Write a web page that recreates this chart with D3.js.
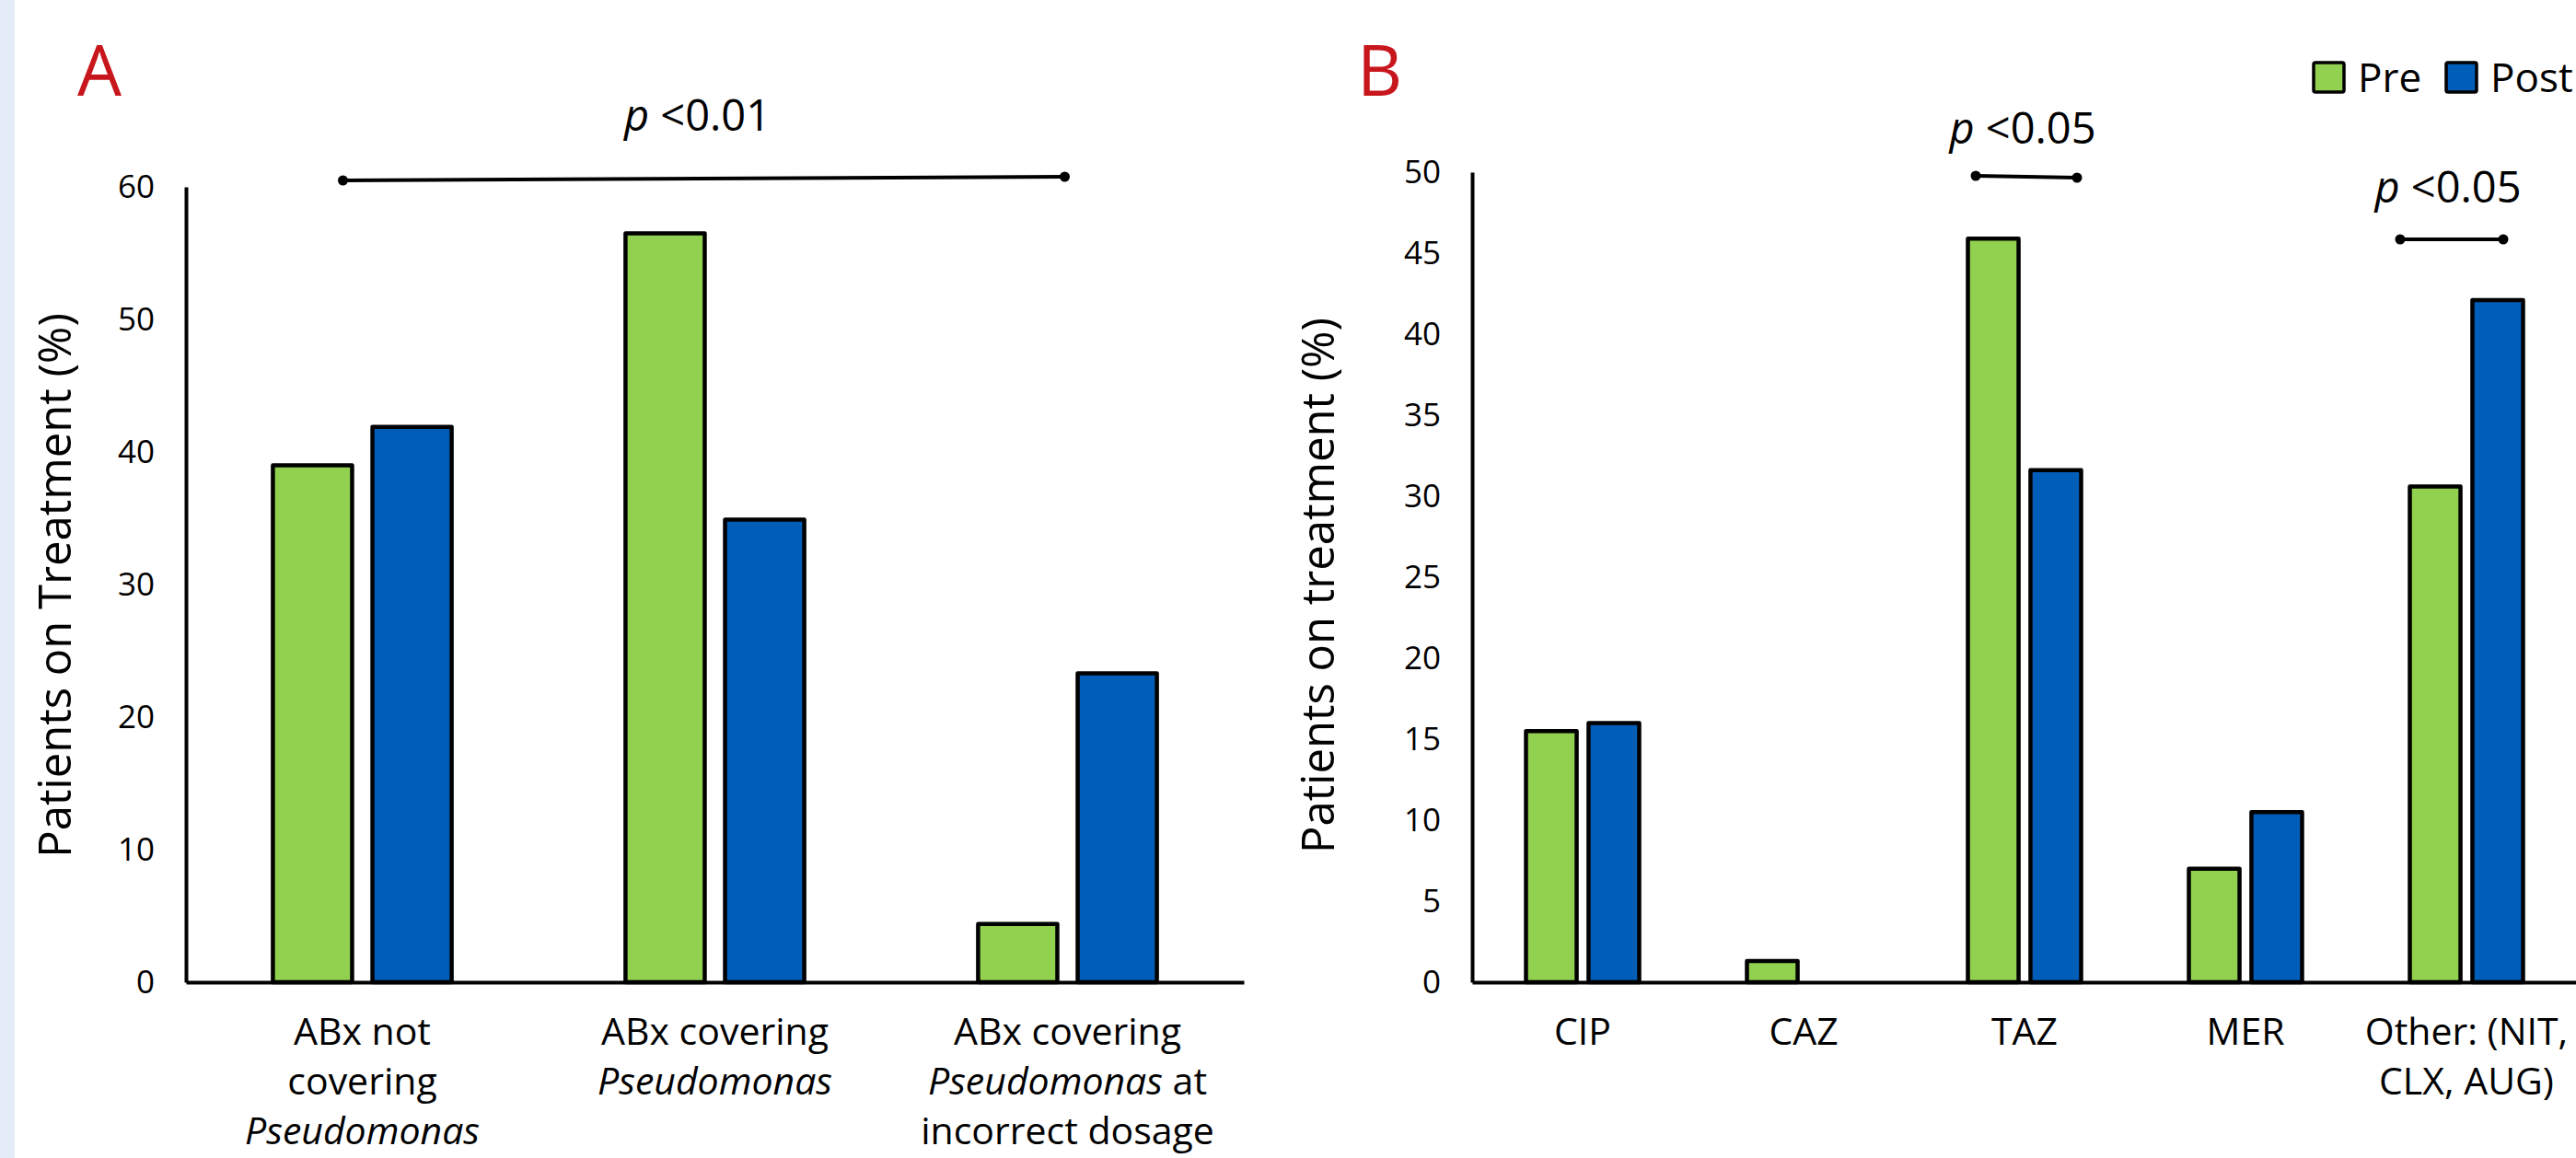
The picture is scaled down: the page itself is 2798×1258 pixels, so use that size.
<!DOCTYPE html>
<html>
<head>
<meta charset="utf-8">
<script src="https://cdn.jsdelivr.net/npm/d3@7"></script>
<style>
  html, body { margin: 0; padding: 0; background: #fff; }
  svg { display: block; font-family: "Open Sans", "Segoe UI", sans-serif; }
</style>
</head>
<body>
<div id="chart"></div>
<script>
// Panel A data
const catsA = ["ABx not covering Pseudomonas", "ABx covering Pseudomonas", "ABx covering Pseudomonas at incorrect dosage"];
const labelsA = [
    ["ABx not", "covering", "_Pseudomonas_"],
    ["ABx covering", "_Pseudomonas_"],
    ["ABx covering", "_Pseudomonas_ at", "incorrect dosage"]
];
const preA = [39.0, 56.5, 4.4];
const postA = [41.9, 34.9, 23.3];
const ticksA = [0, 10, 20, 30, 40, 50, 60];

// Panel B data
const catsB = ["CIP", "CAZ", "TAZ", "MER", "Other"];
const labelsB = [["CIP"], ["CAZ"], ["TAZ"], ["MER"], ["Other: (NIT,", "CLX, AUG)"]];
const preB = [15.5, 1.3, 45.9, 7.0, 30.6];
const postB = [16.0, 0, 31.6, 10.5, 42.1];
const ticksB = [0, 5, 10, 15, 20, 25, 30, 35, 40, 45, 50];

const series = ["Pre", "Post"];
const colors = { "Pre": "#92D050", "Post": "#005EB8" };

const W = 2798, H = 1258;
const svg = d3.select("#chart").append("svg")
    .attr("width", W)
    .attr("height", H);

// light strip on the left edge
svg.append("rect").attr("x", 0).attr("y", 0).attr("width", 16).attr("height", H).attr("fill", "#e4ecf8");

function drawPanel(opt) {
    const g = svg.append("g");
    const y = d3.scaleLinear().domain([0, opt.max]).range([opt.y0, opt.y1]);
    const x0 = d3.scaleBand().domain(opt.cats).range(opt.xr)
        .paddingInner(opt.padIn).paddingOuter(opt.padIn / 2);
    const x1 = d3.scaleBand().domain(series).range([0, x0.bandwidth()]).paddingInner(opt.padBar);

    // y axis
    const ya = g.append("g")
        .attr("transform", `translate(${opt.xr[0]},0)`)
        .call(d3.axisLeft(y).tickValues(opt.ticks).tickSize(0).tickPadding(34));
    ya.select(".domain").attr("stroke", "#000").attr("stroke-width", 4);
    ya.selectAll("text").attr("font-size", 35).attr("font-family", "Open Sans").attr("fill", "#000");

    // bars
    const rows = opt.cats.map((c, i) => ({ cat: c, vals: [opt.pre[i], opt.post[i]] }));
    const grp = g.selectAll(".grp").data(rows).enter().append("g")
        .attr("transform", d => `translate(${x0(d.cat)},0)`);
    grp.selectAll("rect")
        .data(d => series.map((s, j) => ({ s: s, v: d.vals[j] })).filter(d => d.v > 0))
        .enter().append("rect")
        .attr("x", d => x1(d.s))
        .attr("width", x1.bandwidth())
        .attr("y", d => y(d.v))
        .attr("height", d => y(0) - y(d.v))
        .attr("fill", d => colors[d.s])
        .attr("stroke", "#000")
        .attr("stroke-width", 4.5)
        .attr("stroke-linejoin", "round");

    // x axis
    const xa = g.append("g")
        .attr("transform", `translate(0,${opt.y0})`)
        .call(d3.axisBottom(x0).tickSize(0).tickFormat(""));
    xa.select(".domain").attr("stroke", "#000").attr("stroke-width", 4);

    // category labels (multi-line, _word_ = italic)
    opt.labels.forEach((lines, i) => {
        const cx = x0(opt.cats[i]) + x0.bandwidth() / 2;
        lines.forEach((line, k) => {
            const t = g.append("text")
                .attr("x", cx)
                .attr("y", opt.y0 + 68 + k * 54)
                .attr("text-anchor", "middle")
                .attr("font-size", 41)
                .attr("fill", "#000");
            line.split(/(_[^_]+_)/).filter(s => s.length).forEach(part => {
                const it = part.startsWith("_");
                t.append("tspan")
                    .attr("font-style", it ? "italic" : "normal")
                    .text(it ? part.slice(1, -1) : part);
            });
        });
    });

    // y axis title
    g.append("text")
        .attr("transform", `translate(${opt.titleX},${opt.titleY}) rotate(-90)`)
        .attr("text-anchor", "middle")
        .attr("font-size", 49)
        .attr("fill", "#000")
        .text(opt.title);

    // panel letter
    g.append("text")
        .attr("x", opt.letterX)
        .attr("y", 104)
        .attr("font-size", 76)
        .attr("fill", "#c8161d")
        .text(opt.letter);

    // significance brackets
    opt.sig.forEach(s => {
        const xa0 = x0(opt.cats[s.from]) + x0.bandwidth() / 2 + s.dx0;
        const xa1 = x0(opt.cats[s.to]) + x0.bandwidth() / 2 + s.dx1;
        g.append("line")
            .attr("x1", xa0).attr("x2", xa1)
            .attr("y1", s.y).attr("y2", s.y2)
            .attr("stroke", "#000").attr("stroke-width", 4);
        [[xa0, s.y], [xa1, s.y2]].forEach(p => {
            g.append("circle").attr("cx", p[0]).attr("cy", p[1]).attr("r", 5.5).attr("fill", "#000");
        });
        const t = g.append("text")
            .attr("x", (xa0 + xa1) / 2 + s.tdx)
            .attr("y", s.ty)
            .attr("text-anchor", "middle")
            .attr("font-size", 47)
            .attr("fill", "#000");
        t.append("tspan").attr("font-style", "italic").text("p");
        t.append("tspan").text(" <" + s.p);
    });

    return { x0, x1, y };
}

drawPanel({
    cats: catsA, labels: labelsA, pre: preA, post: postA, ticks: ticksA, max: 60,
    xr: [202, 1351], y0: 1067, y1: 203, padIn: 0.493, padBar: 0.204,
    title: "Patients on Treatment (%)", titleX: 77, titleY: 636,
    letter: "A", letterX: 84,
    sig: [{ from: 0, to: 2, dx0: -21, dx1: -3, y: 196, y2: 192, ty: 142, tdx: -7, p: "0.01" }]
});

drawPanel({
    cats: catsB, labels: labelsB, pre: preB, post: postB, ticks: ticksB, max: 50,
    xr: [1599, 2799], y0: 1067, y1: 187, padIn: 0.4875, padBar: 0.19,
    title: "Patients on treatment (%)", titleX: 1449, titleY: 636,
    letter: "B", letterX: 1474,
    sig: [
        { from: 2, to: 2, dx0: -53, dx1: 57, y: 191, y2: 193, ty: 156, tdx: -4, p: "0.05" },
        { from: 4, to: 4, dx0: -72, dx1: 40, y: 260, y2: 260, ty: 220, tdx: -4, p: "0.05" }
    ]
});

// legend
const legend = svg.append("g").attr("transform", "translate(2513,68)");
const legX = d3.scaleOrdinal().domain(series).range([0, 144]);
series.forEach(s => {
    const li = legend.append("g").attr("transform", `translate(${legX(s)},0)`);
    li.append("rect").attr("width", 33).attr("height", 32)
        .attr("fill", colors[s]).attr("stroke", "#000").attr("stroke-width", 3.5).attr("rx", 2);
    li.append("text").attr("x", 48).attr("y", 32)
        .attr("font-size", 44).attr("fill", "#000").text(s);
});
</script>
</body>
</html>
